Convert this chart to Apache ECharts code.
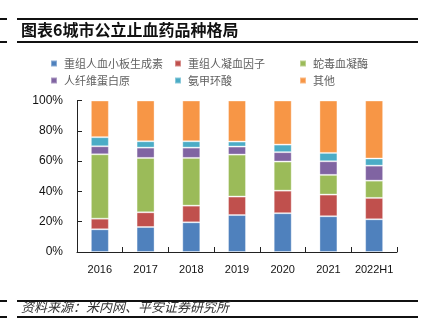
<!DOCTYPE html>
<html>
<head>
<meta charset="utf-8">
<script src="https://cdn.jsdelivr.net/npm/echarts@6/dist/echarts.min.js"></script>
<style>
  html, body { margin: 0; padding: 0; background: #fff; }
  #chart { width: 433px; height: 335px; }
</style>
</head>
<body>
<div id="chart"></div>
<script>
// Market share (%) of hemostatic drug varieties in urban public hospitals
const categories = ['2016', '2017', '2018', '2019', '2020', '2021', '2022H1'];
const seriesNames = ['重组人血小板生成素', '重组人凝血因子', '蛇毒血凝酶', '人纤维蛋白原', '氨甲环酸', '其他'];
const rhTPO       = [15.0, 16.5, 19.6, 24.4, 25.6, 23.6, 21.6];
const rhFactor    = [7.0, 9.7, 11.0, 12.2, 14.9, 14.3, 14.1];
const hemocoagulase = [42.5, 35.9, 31.5, 27.7, 19.2, 13.0, 11.4];
const fibrinogen  = [5.3, 6.8, 6.8, 5.3, 6.2, 9.0, 9.9];
const tranexamic  = [6.0, 4.2, 4.2, 3.3, 5.0, 5.5, 4.7];
const others      = [24.2, 26.9, 26.9, 27.1, 29.1, 34.6, 38.3];
const yTicks = [0, 20, 40, 60, 80, 100];

const seriesData = [rhTPO, rhFactor, hemocoagulase, fibrinogen, tranexamic, others];
const colors = ['#4F81BD', '#C0504D', '#9BBB59', '#8064A2', '#4BACC6', '#F79646'];

const chart = echarts.init(document.getElementById('chart'), null, { renderer: 'canvas' });

const cjk = '"Noto Sans CJK SC", sans-serif';
const legendBase = {
  orient: 'vertical',
  top: 53,
  itemWidth: 6,
  itemHeight: 6,
  itemGap: 6,
  icon: 'rect',
  selectedMode: false,
  textStyle: { fontFamily: cjk, fontSize: 11, color: '#606060', padding: [0, 0, 0, 2] }
};

function ruleLine(y, x1, x2) {
  return { type: 'line', shape: { x1: x1, y1: y, x2: x2, y2: y },
           style: { stroke: '#111', lineWidth: 2 }, silent: true };
}

chart.setOption({
  animation: false,
  color: colors,
  grid: { left: 77, right: 36, top: 100.5, bottom: 83 },
  legend: [
    Object.assign({}, legendBase, { left: 45, data: [seriesNames[0], seriesNames[3]] }),
    Object.assign({}, legendBase, { left: 169, data: [seriesNames[1], seriesNames[4]] }),
    Object.assign({}, legendBase, { left: 294, data: [seriesNames[2], seriesNames[5]] })
  ],
  graphic: [
    ruleLine(19, 0, 7), ruleLine(19, 17, 418),
    ruleLine(42, 0, 7), ruleLine(42, 17, 418),
    { type: 'text', left: 21, top: 22,
      style: { text: '图表6城市公立止血药品种格局', font: 'bold 16px "Noto Sans CJK SC", sans-serif', fill: '#111' } },
    ruleLine(301, 0, 7), ruleLine(301, 17, 418),
    ruleLine(317, 0, 7), ruleLine(317, 17, 418),
    { type: 'text', left: 21, top: 301,
      style: { text: '资料来源：米内网、平安证券研究所', font: 'italic 13px "Noto Sans CJK SC", sans-serif', fill: '#333' } }
  ],
  xAxis: {
    type: 'category',
    data: categories,
    axisLine: { lineStyle: { color: '#222', width: 1 } },
    axisTick: { show: true, inside: true, length: 5, lineStyle: { color: '#222' } },
    axisLabel: { interval: 0, margin: 12, fontFamily: '"Liberation Sans", Arial, sans-serif', fontSize: 11, color: '#111' }
  },
  yAxis: {
    type: 'value',
    min: yTicks[0],
    max: yTicks[yTicks.length - 1],
    interval: yTicks[1] - yTicks[0],
    splitLine: { show: false },
    axisLine: { show: true, lineStyle: { color: '#222', width: 1 } },
    axisTick: { show: true, inside: true, length: 5, lineStyle: { color: '#222' } },
    axisLabel: { formatter: '{value}%', margin: 14, fontFamily: '"Liberation Sans", Arial, sans-serif', fontSize: 12, color: '#111' }
  },
  series: seriesNames.map((name, i) => ({
    name: name,
    type: 'bar',
    stack: 'share',
    barWidth: 18,
    data: seriesData[i],
    itemStyle: { borderColor: 'rgba(255,255,255,0.35)', borderWidth: 1 }
  }))
});
</script>
</body>
</html>
